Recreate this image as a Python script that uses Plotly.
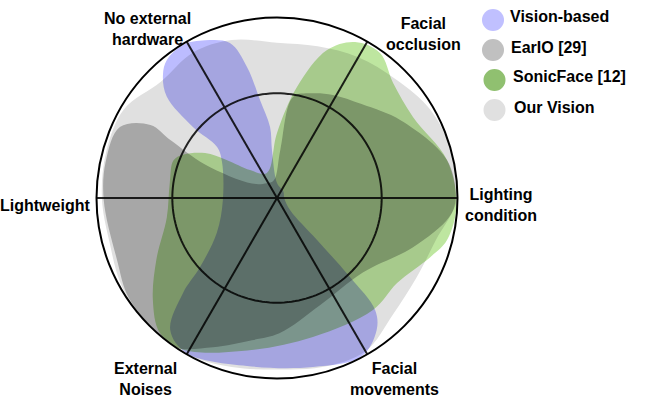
import plotly.graph_objects as go

# ---------------- data ----------------
axis_labels = ["Lighting<br>condition", "Facial<br>occlusion", "No external<br>hardware",
               "Lightweight", "External<br>Noises", "Facial<br>movements"]
axis_angles = [0, 60, 120, 180, 240, 300]
inner_ring = 0.58

series_names = ["Vision-based", "EarIO [29]", "SonicFace [12]", "Our Vision"]
legend_colors = ["#c0c0ff", "#c0c0c0", "#90c070", "#e0e0e0"]
fill_colors = ["rgb(188,188,255)", "rgb(190,190,190)", "rgb(190,230,160)", "rgb(224,224,224)"]

# blob outlines (angle in degrees, radius 0..1)
our_theta = [0, 15, 30, 45, 60, 75, 90, 106, 120, 135, 150, 165, 180, 195, 210, 225,
             240, 255, 270, 285, 300, 315, 330, 345]
our_r = [1.0, 1.0, 0.98, 0.93, 0.9, 0.87, 0.86, 0.91, 0.93, 0.91, 0.98, 0.98, 0.97, 0.96,
         0.99, 1.0, 1.0, 0.97, 0.95, 0.97, 0.98, 0.91, 0.89, 0.91]

vision_theta = [0, 45, 90, 96, 95.6, 99.8, 102.9, 106.9, 114.5, 121.6, 128.6, 132.8, 137.4,
                139.8, 139.6, 146.8, 182, 210, 221.9, 225.3, 231, 239.6, 259.9, 282, 298,
                307, 311.2, 312.7, 313.6, 317]
vision_r = [0.04, 0.05, 0.083, 0.267, 0.395, 0.55, 0.745, 0.897, 0.96, 0.995, 0.978, 0.93,
            0.83, 0.61, 0.436, 0.364, 0.30, 0.385, 0.573, 0.74, 0.94, 0.995, 0.945, 0.957,
            0.995, 0.917, 0.825, 0.596, 0.32, 0.1]

eario_theta = [0, 12.6, 32, 48, 61.5, 72, 81, 86, 100, 125, 150, 155, 151.5, 150, 155.7,
               168, 180.7, 201, 214, 230, 236, 246.8, 260, 271, 292, 319, 340, 353.7]
eario_r = [0.99, 0.965, 0.81, 0.7, 0.65, 0.61, 0.567, 0.27, 0.1, 0.1, 0.16, 0.44, 0.67,
           0.81, 0.955, 0.97, 0.96, 0.95, 0.99, 1.0, 1.0, 0.9, 0.8, 0.75, 0.64, 0.63, 0.8,
           0.96]

sonic_theta = [357.8, 12.6, 30.8, 44.7, 54.6, 63.4, 71.3, 79.8, 90, 112, 134, 143, 148,
               155, 160, 172, 190, 207, 219.4, 229, 238, 259, 284.5, 310.6, 324.7, 338.9,
               346]
sonic_r = [0.995, 0.965, 0.877, 0.905, 0.985, 0.966, 0.865, 0.625, 0.36, 0.15, 0.215, 0.35,
           0.47, 0.57, 0.61, 0.6, 0.62, 0.75, 0.89, 0.99, 0.99, 0.86, 0.795, 0.817, 0.815,
           0.91, 0.97]

shapes_data = [
    (our_theta, our_r, 3),
    (vision_theta, vision_r, 0),
    (eario_theta, eario_r, 1),
    (sonic_theta, sonic_r, 2),
]

W, H = 650, 399
FONT = dict(family="Arial, Liberation Sans, sans-serif", size=16, color="black", weight="bold")
GRID = "#262626"

fig = go.Figure()

# spokes and inner ring (drawn first so the blobs tint them)
for a in axis_angles[:3]:
    fig.add_trace(go.Scatterpolar(theta=[a, a, a + 180], r=[1, 0, 1], mode="lines",
                                  line=dict(color=GRID, width=2), showlegend=False,
                                  hoverinfo="skip"))
ring_theta = list(range(0, 361, 2))
fig.add_trace(go.Scatterpolar(theta=ring_theta, r=[inner_ring] * len(ring_theta), mode="lines",
                              line=dict(color=GRID, width=2), showlegend=False,
                              hoverinfo="skip"))

for th, rr, idx in shapes_data:
    fig.add_trace(go.Scatterpolar(
        theta=list(th) + [th[0]], r=list(rr) + [rr[0]],
        mode="lines", fill="toself", fillcolor=fill_colors[idx],
        line=dict(width=0, color=fill_colors[idx], shape="spline", smoothing=1.0),
        name=series_names[idx], showlegend=False, hoverinfo="skip",
    ))

cx, cy, R = 277, 198, 180.5
fig.update_layout(
    width=W, height=H, margin=dict(l=0, r=0, t=0, b=0),
    paper_bgcolor="white", showlegend=False,
    polar=dict(
        domain=dict(x=[(cx - R) / W, (cx + R) / W], y=[(H - cy - R) / H, (H - cy + R) / H]),
        bgcolor="white",
        radialaxis=dict(range=[0, 1], tickvals=[inner_ring], showticklabels=False, ticks="",
                        showline=False, showgrid=False),
        angularaxis=dict(rotation=0, direction="counterclockwise", tickmode="array",
                         tickvals=axis_angles, ticktext=axis_labels, showticklabels=False,
                         ticks="", showline=True, linecolor="black", linewidth=2,
                         showgrid=False),
    ),
)

# axis label placement (pixel centres)
label_pos = [(501, 205), (423, 34), (147, 29), (45, 205), (145, 379), (395, 379)]
annotations = []
for txt, (px, py) in zip(axis_labels, label_pos):
    annotations.append(dict(text=txt, x=px / W, y=1 - py / H, xref="paper", yref="paper",
                            xanchor="center", yanchor="middle", showarrow=False, align="center",
                            font=FONT))

# legend
leg_circles = [(493, 20), (493, 50), (494.5, 80), (494.5, 110)]
leg_text = [(508, 17), (509, 47), (511, 77), (512, 107)]
shapes = []
d = 11
for i, name in enumerate(series_names):
    lx, ly = leg_circles[i]
    shapes.append(dict(type="circle", xref="paper", yref="paper",
                       x0=(lx - d) / W, x1=(lx + d) / W, y0=1 - (ly + d) / H, y1=1 - (ly - d) / H,
                       fillcolor=legend_colors[i], line=dict(width=0)))
    tx, ty = leg_text[i]
    annotations.append(dict(text=name, x=tx / W, y=1 - ty / H, xref="paper", yref="paper",
                            xanchor="left", yanchor="middle", showarrow=False, font=FONT))

fig.update_layout(annotations=annotations, shapes=shapes)

blend_js = """
document.body.style.margin = '0';
function rsBlend(){document.querySelectorAll('.polarlayer .js-fill').forEach(function(p){p.style.mixBlendMode='multiply';});}
rsBlend();
var gd = document.getElementById('{plot_id}');
if (gd && gd.on) { gd.on('plotly_afterplot', rsBlend); }
"""
fig.write_html("out.html", post_script=blend_js, config={"displayModeBar": False})
